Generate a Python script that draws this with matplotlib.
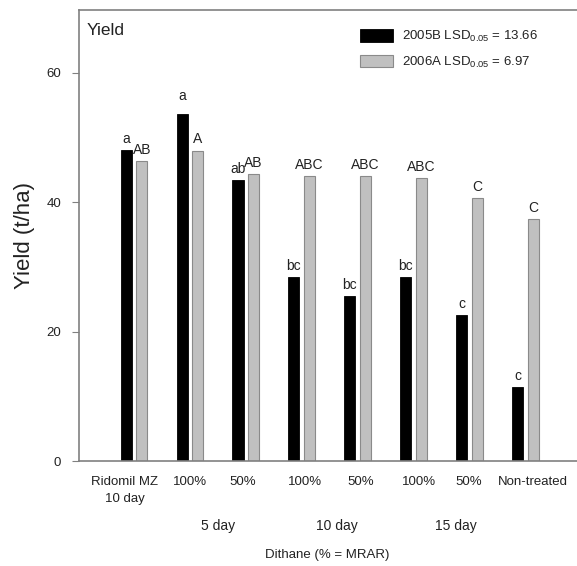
import matplotlib
matplotlib.use('Agg')
from matplotlib import pyplot as plt
import numpy as np

plt.rcParams['font.family'] = ['Liberation Sans', 'DejaVu Sans']
plt.rcParams['mathtext.fontset'] = 'custom'
plt.rcParams['mathtext.rm'] = 'Liberation Sans'
plt.rcParams['mathtext.it'] = 'Liberation Sans'

# treatments (first line of tick labels)
treatments = ['Ridomil MZ\n10 day', '100%', '50%', '100%', '50%', '100%', '50%', 'Non-treated']
intervals = ['5 day', '10 day', '15 day']

yield_2005b = [48.1, 53.7, 43.4, 28.5, 25.5, 28.5, 22.5, 11.4]
yield_2006a = [46.4, 48.0, 44.4, 44.0, 44.0, 43.7, 40.6, 37.4]
letters_2005b = ['a', 'a', 'ab', 'bc', 'bc', 'bc', 'c', 'c']
letters_2006a = ['AB', 'A', 'AB', 'ABC', 'ABC', 'ABC', 'C', 'C']

label_2005b = r'2005B LSD$_{0.05}$ = 13.66'
label_2006a = r'2006A LSD$_{0.05}$ = 6.97'

fig = plt.figure(figsize=(5.77, 5.66), dpi=100)
ax = fig.add_axes([0.137, 0.1855, 0.863, 0.7965])

x = np.arange(1, len(treatments) + 1)
w = 0.2
off = 0.14
spine_col = '#808080'
text_col = '#222222'

ax.bar(x - off, yield_2005b, width=w, color='black', edgecolor='black', linewidth=0.6,
       label=label_2005b)
ax.bar(x + off, yield_2006a, width=w, color='#c0c0c0', edgecolor='#8a8a8a', linewidth=0.8,
       label=label_2006a)

for i, (xi, v, s) in enumerate(zip(x - off, yield_2005b, letters_2005b)):
    dy = 8 if i == 1 else 3  # the 'a' over the tallest bar sits a bit higher
    ax.annotate(s, (xi, v), xytext=(0, dy), textcoords='offset points', ha='center', va='bottom',
                fontsize=10, color=text_col)
for xi, v, s in zip(x + off, yield_2006a, letters_2006a):
    ax.annotate(s, (xi, v), xytext=(0, 3), textcoords='offset points', ha='center', va='bottom',
                fontsize=10, color=text_col)

ax.set_xlim(0.016, 8.925)
ax.set_ylim(0, 69.7)
ax.set_yticks([0, 20, 40, 60])
# labels sit slightly off the group centres in the original
ax.set_xticks(x + np.array([-0.17, 0.0, -0.05, 0.05, 0.05, 0.1, -0.02, 0.14]))
ax.set_xticklabels(treatments, fontsize=9.5, color=text_col, linespacing=1.55)
ax.tick_params(axis='x', length=0, pad=11)
ax.tick_params(axis='y', direction='out', length=5, width=0.8, color=spine_col, labelsize=9.5,
               labelcolor=text_col, pad=8)

for side in ['left', 'top', 'bottom']:
    ax.spines[side].set_color(spine_col)
    ax.spines[side].set_linewidth(1.2)
ax.spines['right'].set_visible(False)

ax.set_ylabel('Yield (t/ha)', fontsize=16, color=text_col, labelpad=8)
ax.text(0.016, 0.955, 'Yield', transform=ax.transAxes, fontsize=12.5, color=text_col,
        ha='left', va='center')

# second level labels
for pos, lab in zip([2.5, 4.62, 6.75], intervals):
    ax.text(pos, -0.145, lab, transform=ax.get_xaxis_transform(), ha='center', va='center',
            fontsize=10, color=text_col)
fig.text(0.567, 0.02, 'Dithane (% = MRAR)', ha='center', va='center', fontsize=9.5, color=text_col)

ax.legend(loc='upper left', bbox_to_anchor=(0.54, 0.985), frameon=False, fontsize=9.5,
          handlelength=2.5, handleheight=1.1, labelspacing=0.8, handletextpad=0.7,
          labelcolor=text_col)

fig.savefig('out.png', dpi=100)
